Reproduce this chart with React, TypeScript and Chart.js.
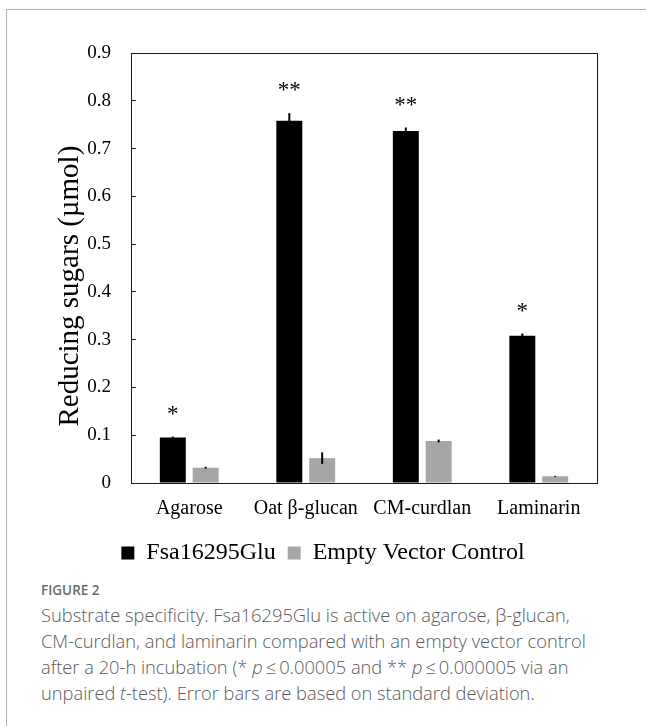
import React, { useEffect, useRef } from "react";
import { Chart, registerables } from "chart.js";

Chart.register(...registerables);

const categories = ["Agarose", "Oat β-glucan", "CM-curdlan", "Laminarin"];
const fsaValues = [0.095, 0.758, 0.737, 0.308];
const fsaErrors = [0.002, 0.016, 0.007, 0.005];
const controlValues = [0.032, 0.052, 0.088, 0.014];
const controlErrors = [0.002, 0.012, 0.003, 0.001];
const significance = ["*", "**", "**", "*"];
const yTickLabels = ["0", "0.1", "0.2", "0.3", "0.4", "0.5", "0.6", "0.7", "0.8", "0.9"];
const seriesNames = ["Fsa16295Glu", "Empty Vector Control"];
const yTitle = "Reducing sugars (µmol)";

const SERIF = "'Liberation Serif', 'Times New Roman', serif";
const FRAME = "#1a1a1a";

const errorBarPlugin = {
  id: "errorBars",
  afterDatasetsDraw(chart: any) {
    const { ctx } = chart;
    const y = chart.scales.y;
    const errs = [fsaErrors, controlErrors];
    ctx.save();
    ctx.strokeStyle = "#000";
    ctx.lineWidth = 2;
    chart.data.datasets.forEach((ds: any, i: number) => {
      const meta = chart.getDatasetMeta(i);
      meta.data.forEach((bar: any, j: number) => {
        const v = ds.data[j];
        const e = errs[i][j];
        const top = y.getPixelForValue(v + e);
        const bot = y.getPixelForValue(v - e);
        ctx.beginPath();
        ctx.moveTo(bar.x, top);
        ctx.lineTo(bar.x, bot);
        ctx.stroke();
      });
    });
    const meta0 = chart.getDatasetMeta(0);
    ctx.fillStyle = "#000";
    ctx.font = `23px ${SERIF}`;
    ctx.textAlign = "center";
    ctx.textBaseline = "middle";
    meta0.data.forEach((bar: any, j: number) => {
      const top = y.getPixelForValue(fsaValues[j] + fsaErrors[j]);
      ctx.fillText(significance[j], bar.x, top - 22);
    });
    ctx.restore();
  },
};

export default function App() {
  const ref = useRef<HTMLCanvasElement | null>(null);

  useEffect(() => {
    if (!ref.current) return;
    const chart = new Chart(ref.current, {
      type: "bar",
      data: {
        labels: categories,
        datasets: [
          {
            label: seriesNames[0],
            data: fsaValues,
            backgroundColor: "#000000",
            categoryPercentage: 0.564,
            barPercentage: 0.79,
          },
          {
            label: seriesNames[1],
            data: controlValues,
            backgroundColor: "#a6a6a6",
            categoryPercentage: 0.564,
            barPercentage: 0.79,
          },
        ],
      },
      options: {
        responsive: false,
        animation: false,
        events: [],
        layout: { padding: 0, autoPadding: false },
        plugins: {
          tooltip: { enabled: false },
          legend: {
            position: "bottom",
            labels: {
              boxWidth: 13,
              boxHeight: 13,
              padding: 12,
              color: "#000",
              font: { family: SERIF, size: 24 },
            },
          },
        },
        scales: {
          x: {
            position: "bottom",
            grid: { display: false, drawTicks: false },
            border: { display: true, color: FRAME, width: 1 },
            ticks: { color: "#000", padding: 14, font: { family: SERIF, size: 20 } },
            afterFit: (s: any) => {
              s.height = 46;
            },
          },
          xTop: {
            type: "category",
            position: "top",
            grid: { display: false, drawTicks: false },
            border: { display: true, color: FRAME, width: 1 },
            ticks: { display: false },
            afterFit: (s: any) => {
              s.height = 53;
            },
          },
          y: {
            position: "left",
            min: 0,
            max: 0.9,
            ticks: {
              stepSize: 0.1,
              color: "#000",
              padding: 25,
              font: { family: SERIF, size: 19 },
              callback: (_v: any, i: number) => yTickLabels[i],
            },
            grid: {
              display: true,
              drawOnChartArea: false,
              drawTicks: true,
              tickLength: -5,
              color: FRAME,
            },
            border: { display: true, color: FRAME, width: 1 },
            title: {
              display: true,
              text: yTitle + "\u00a0\u00a0\u00a0\u00a0\u00a0",
              color: "#000",
              font: { family: SERIF, size: 29 },
              padding: { top: 53, bottom: 0 },
            },
            afterFit: (s: any) => {
              s.width = 131;
            },
          },
          yRight: {
            type: "linear",
            position: "right",
            grid: { display: false, drawTicks: false },
            border: { display: true, color: FRAME, width: 1 },
            ticks: { display: false },
            afterFit: (s: any) => {
              s.width = 49;
            },
          },
        },
      },
      plugins: [errorBarPlugin],
    } as any);
    return () => chart.destroy();
  }, []);

  const capStyle: React.CSSProperties = {
    whiteSpace: "nowrap",
    height: 26,
    lineHeight: "26px",
  };

  return (
    <div style={{ position: "absolute", left: 0, top: 0, width: 646, height: 726, overflow: "hidden", background: "#fff" }}>
      <div
        style={{
          position: "absolute",
          left: 6,
          top: 9,
          width: 660,
          height: 740,
          borderTop: "1px solid #b4b4b4",
          borderLeft: "1px solid #b4b4b4",
        }}
      />
      <canvas ref={ref} width={646} height={575} style={{ position: "absolute", left: 0, top: 0 }} />
      <div
        style={{
          position: "absolute",
          left: 41,
          top: 580,
          fontFamily: "'Open Sans', sans-serif",
          color: "#5a5a5a",
        }}
      >
        <div style={{ fontSize: 13.5, fontWeight: 600, color: "#6a6a6a", lineHeight: "20px", marginBottom: 2 }}>FIGURE 2</div>
        <div style={{ fontSize: 18.3, fontWeight: 300 }}>
          <div style={capStyle}>Substrate specificity. Fsa16295Glu is active on agarose, β-glucan,</div>
          <div style={capStyle}>CM-curdlan, and laminarin compared with an empty vector control</div>
          <div style={capStyle}>
            after a 20-h incubation (* <i>p</i>{"\u2009≤\u2009"}0.00005 and ** <i>p</i>{"\u2009≤\u2009"}0.000005 via an
          </div>
          <div style={capStyle}>
            unpaired <i>t</i>-test). Error bars are based on standard deviation.
          </div>
        </div>
      </div>
    </div>
  );
}
